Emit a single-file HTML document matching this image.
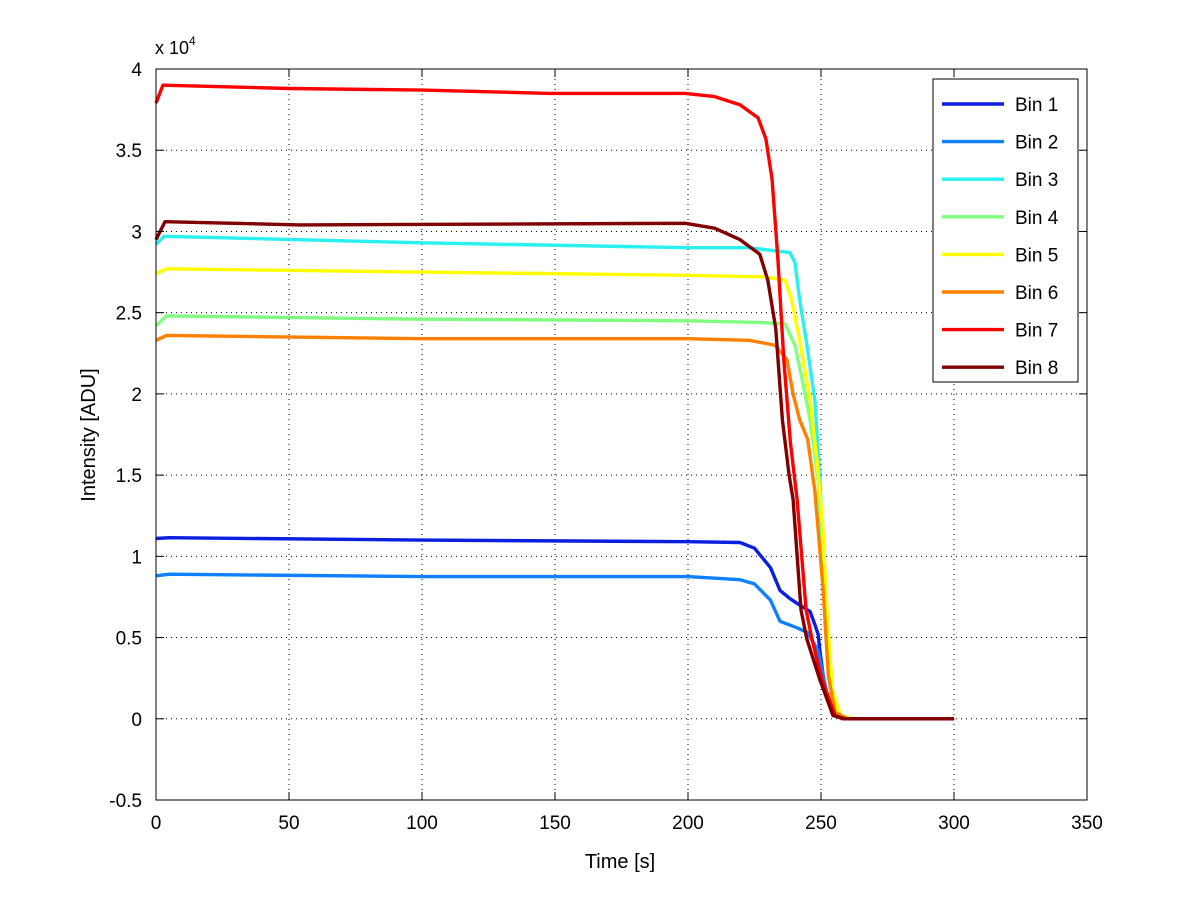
<!DOCTYPE html>
<html><head><meta charset="utf-8"><style>
body{margin:0;background:#fff;}
svg{display:block;font-family:"Liberation Sans",sans-serif;}
</style></head><body>
<svg id="chart" width="1200" height="901" viewBox="0 0 1200 901" xmlns="http://www.w3.org/2000/svg">
<rect x="0" y="0" width="1200" height="901" fill="#fff"/>
<g id="grid"></g>
<g id="series"></g>
<rect x="156" y="69" width="931" height="731" fill="none" stroke="#000" stroke-width="1"/>
<g id="ticks" font-size="19"></g>
<text x="155" y="54" font-size="18">x 10<tspan font-size="12" dy="-9">4</tspan></text>
<text x="620" y="868" font-size="20" text-anchor="middle">Time [s]</text>
<text transform="translate(95,435) rotate(-90)" font-size="20" text-anchor="middle">Intensity [ADU]</text>
<g id="legend"></g>
</svg>
<script>
const xTicks=[0,50,100,150,200,250,300,350];
const yTicks=[-0.5,0,0.5,1,1.5,2,2.5,3,3.5,4];
const yTickLabels=["-0.5","0","0.5","1","1.5","2","2.5","3","3.5","4"];
const seriesNames=["Bin 1","Bin 2","Bin 3","Bin 4","Bin 5","Bin 6","Bin 7","Bin 8"];
const seriesColors=["#0a1fe0","#0f80ff","#2af0f0","#80ff80","#ffff00","#ff8000","#ff0000","#800000"];
const bin1T=[0,5,100,200,219.5,225,231,234.6,238.3,242,245.9,247.7,248.9,249.6,251.5,254.1,258,300];
const bin1V=[1.11,1.115,1.10,1.09,1.085,1.05,0.93,0.79,0.74,0.70,0.66,0.58,0.52,0.42,0.18,0.04,0,0];
const bin2T=[0,5,100,200,219.5,225,231,234.6,241,245,248.9,250.4,252.6,255.3,258,300];
const bin2V=[0.88,0.89,0.875,0.875,0.856,0.83,0.73,0.60,0.56,0.53,0.42,0.30,0.12,0.02,0,0];
const bin3T=[0,3,100,200,223,238.3,240.2,242,245,247.7,249.6,251.5,253.4,256.4,261,300];
const bin3V=[2.92,2.97,2.93,2.90,2.90,2.87,2.81,2.58,2.27,1.96,1.47,0.73,0.24,0.02,0,0];
const bin4T=[0,4,100,200,227,236.5,240.2,242.9,245.9,248.9,250.4,251.9,254.1,257.3,261,300];
const bin4V=[2.42,2.48,2.46,2.45,2.44,2.43,2.30,2.09,1.84,1.47,0.98,0.49,0.12,0.02,0,0];
const bin5T=[0,4,100,200,229,236.5,239,242,245.9,248.5,250.6,252.3,254.3,257.3,261.7,300];
const bin5V=[2.74,2.77,2.75,2.73,2.72,2.70,2.58,2.33,1.96,1.59,1.20,0.65,0.18,0.02,0,0];
const bin6T=[0,4,100,200,223,232.7,237.2,239.5,242,245,247.7,250.8,252.8,255.3,260,300];
const bin6V=[2.33,2.36,2.34,2.34,2.33,2.30,2.21,2.0,1.84,1.72,1.40,0.80,0.26,0.04,0,0];
const bin7T=[0,2.6,50,100,148,199,210,219.5,226.3,229.3,231.6,233.8,236,238.5,241,244.4,246.6,250.4,255.3,258,300];
const bin7V=[3.79,3.90,3.88,3.87,3.85,3.85,3.83,3.78,3.70,3.57,3.32,2.83,2.21,1.70,1.35,0.67,0.49,0.24,0.02,0,0];
const bin8T=[0,3.4,54,199,210,219.5,227,230,233,235.5,238,239.5,242.5,244.7,249.6,254.5,259,300];
const bin8V=[2.95,3.06,3.04,3.05,3.02,2.95,2.86,2.70,2.40,1.84,1.50,1.35,0.67,0.49,0.24,0.02,0,0];
const allT=[bin1T,bin2T,bin3T,bin4T,bin5T,bin6T,bin7T,bin8T];
const allV=[bin1V,bin2V,bin3V,bin4V,bin5V,bin6V,bin7V,bin8V];

const X0=156,X1=1087,Y0=800,Y1=69;
function sx(t){return X0+(t-0)/(350-0)*(X1-X0);}
function sy(v){return Y0-(v+0.5)/(4.5)*(Y0-Y1);}
const NS="http://www.w3.org/2000/svg";
function mk(tag,attrs,parent){const e=document.createElementNS(NS,tag);for(const k in attrs)e.setAttribute(k,attrs[k]);parent.appendChild(e);return e;}
const grid=document.getElementById('grid'),ticks=document.getElementById('ticks');
xTicks.forEach((t,i)=>{
  const x=sx(t);
  if(i>0&&i<xTicks.length-1){const g=mk('line',{x1:x,y1:Y1,x2:x,y2:Y0,stroke:'#000','stroke-width':1,'stroke-dasharray':'1,4'},grid);
  
  }
  const tk=mk('line',{x1:x,y1:Y0,x2:x,y2:Y0-8,stroke:'#000'},ticks);
  
  
  const tk2=mk('line',{x1:x,y1:Y1,x2:x,y2:Y1+8,stroke:'#000'},ticks);
  
  
  const lb=mk('text',{x:x,y:Y0+29,'text-anchor':'middle'},ticks);lb.textContent=String(t);
  
  
});
yTicks.forEach((v,i)=>{
  const y=sy(v);
  if(i>0&&i<yTicks.length-1){const g=mk('line',{x1:X0,y1:y,x2:X1,y2:y,stroke:'#000','stroke-width':1,'stroke-dasharray':'1,4'},grid);
  
  }
  const tk=mk('line',{x1:X0,y1:y,x2:X0+8,y2:y,stroke:'#000'},ticks);
  
  
  const tk2=mk('line',{x1:X1,y1:y,x2:X1-8,y2:y,stroke:'#000'},ticks);
  
  
  const lb=mk('text',{x:X0-14,y:y+7,'text-anchor':'end'},ticks);lb.textContent=yTickLabels[i];
  
  
});
const sg=document.getElementById('series');
allT.forEach((ts,i)=>{
  const d=ts.map((t,j)=>(j?'L':'M')+sx(t).toFixed(1)+','+sy(allV[i][j]).toFixed(1)).join('');
  const p=mk('path',{d:d,fill:'none',stroke:seriesColors[i],'stroke-width':3.4,'stroke-linejoin':'round'},sg);
  
  
});
const lg=document.getElementById('legend');
const box=mk('rect',{x:933,y:79,width:145,height:303,fill:'#fff',stroke:'#000'},lg);


seriesNames.forEach((n,i)=>{
  const y=104+i*37.6;
  const ln=mk('line',{x1:942,y1:y,x2:1004,y2:y,stroke:seriesColors[i],'stroke-width':3.4},lg);
  
  
  const t=mk('text',{x:1015,y:y+7,'font-size':19},lg);t.textContent=n;
  
  
});
</script>
</body></html>
